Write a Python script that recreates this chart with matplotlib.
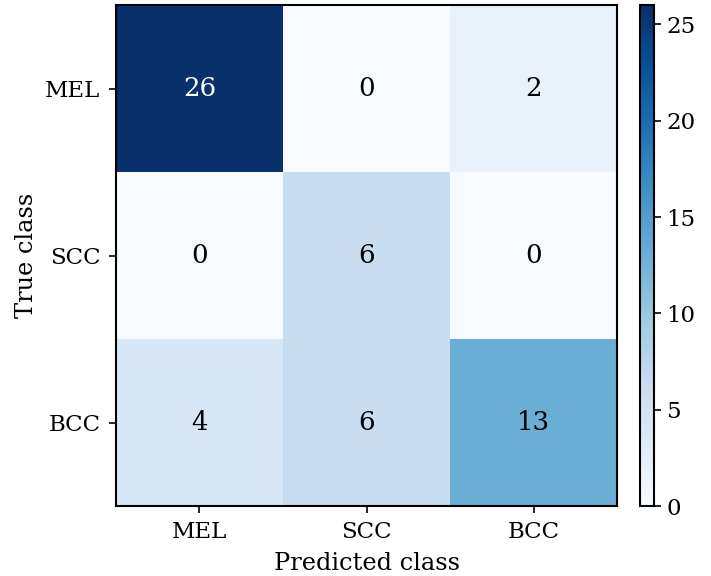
import numpy as np
import matplotlib
matplotlib.use("Agg")
import matplotlib.pyplot as plt

classes = ["MEL", "SCC", "BCC"]
counts = np.array([
    [26, 0, 2],
    [0, 6, 0],
    [4, 6, 13],
])

plt.rcParams["font.family"] = "DejaVu Serif"

fig = plt.figure(figsize=(7.11, 5.76), dpi=100)
ax = fig.add_axes([0.163, 0.1215, 0.705, 0.8695])
cax = fig.add_axes([0.900, 0.1215, 0.020, 0.8695])

im = ax.imshow(counts, interpolation="nearest", cmap="Blues", aspect="auto")
cb = fig.colorbar(im, cax=cax)
cb.ax.tick_params(labelsize=16.5, length=5, width=1.2, pad=4)

ax.set_xticks(range(len(classes)))
ax.set_yticks(range(len(classes)))
ax.set_xticklabels(classes, fontsize=16.5)
ax.set_yticklabels(classes, fontsize=16.5)
ax.set_xlabel("Predicted class", fontsize=17.3, labelpad=6)
ax.set_ylabel("True class", fontsize=17.3, labelpad=5.5)

thresh = counts.max() / 2.0
for i in range(counts.shape[0]):
    for j in range(counts.shape[1]):
        ax.text(j, i, str(counts[i, j]), ha="center", va="center", fontsize=18.7,
                color="white" if counts[i, j] > thresh else "black")

for sp in list(ax.spines.values()) + list(cax.spines.values()):
    sp.set_linewidth(1.5)
ax.tick_params(width=1.2, length=5, pad=6)

fig.savefig("out.png", dpi=100)
